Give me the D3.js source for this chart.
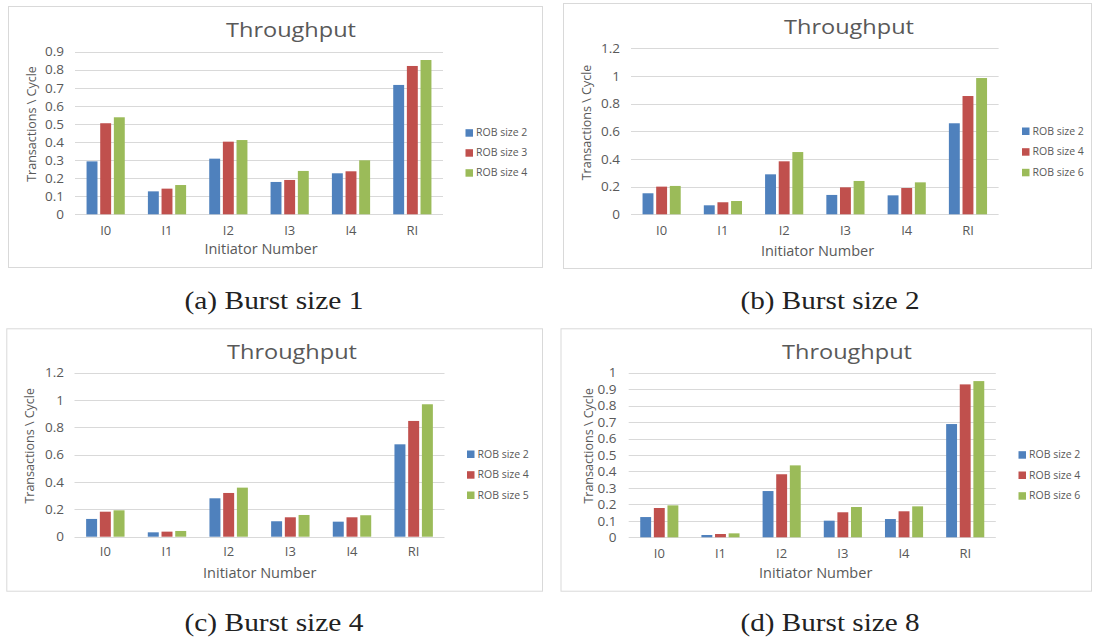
<!DOCTYPE html>
<html>
<head>
<meta charset="utf-8">
<script src="https://cdn.jsdelivr.net/npm/d3@7"></script>
<style>
  html, body { margin: 0; padding: 0; background: #fff; }
  svg { display: block; }
  .tick-label, .cat-label, .axis-title, .chart-title, .legend-label { fill: #595959; font-family: "Open Sans", "Noto Sans", sans-serif; }
  .caption { fill: #222; font-family: "Liberation Serif", "DejaVu Serif", serif; }
</style>
</head>
<body>
<svg id="fig" width="1098" height="644"></svg>
<script>
// Initiator categories shared by all four charts
const categories = ["I0", "I1", "I2", "I3", "I4", "RI"];

// Burst size 1
const burst1Names = ["ROB size 2", "ROB size 3", "ROB size 4"];
const burst1Rob2 = [0.293, 0.127, 0.308, 0.179, 0.227, 0.716];
const burst1Rob3 = [0.504, 0.142, 0.402, 0.190, 0.238, 0.821];
const burst1Rob4 = [0.537, 0.162, 0.411, 0.240, 0.299, 0.854];
const burst1Ticks = [0, 0.1, 0.2, 0.3, 0.4, 0.5, 0.6, 0.7, 0.8, 0.9];

// Burst size 2
const burst2Names = ["ROB size 2", "ROB size 4", "ROB size 6"];
const burst2Rob2 = [0.152, 0.065, 0.289, 0.140, 0.137, 0.658];
const burst2Rob4 = [0.200, 0.087, 0.383, 0.195, 0.190, 0.855];
const burst2Rob6 = [0.205, 0.096, 0.450, 0.241, 0.231, 0.985];
const burst2Ticks = [0, 0.2, 0.4, 0.6, 0.8, 1, 1.2];

// Burst size 4
const burst4Names = ["ROB size 2", "ROB size 4", "ROB size 5"];
const burst4Rob2 = [0.130, 0.032, 0.281, 0.113, 0.110, 0.676];
const burst4Rob4 = [0.183, 0.037, 0.320, 0.142, 0.142, 0.847];
const burst4Rob5 = [0.193, 0.042, 0.359, 0.159, 0.157, 0.969];
const burst4Ticks = [0, 0.2, 0.4, 0.6, 0.8, 1, 1.2];

// Burst size 8
const burst8Names = ["ROB size 2", "ROB size 4", "ROB size 6"];
const burst8Rob2 = [0.123, 0.014, 0.281, 0.101, 0.111, 0.688];
const burst8Rob4 = [0.178, 0.020, 0.383, 0.152, 0.158, 0.929];
const burst8Rob6 = [0.194, 0.024, 0.437, 0.184, 0.188, 0.949];
const burst8Ticks = [0, 0.1, 0.2, 0.3, 0.4, 0.5, 0.6, 0.7, 0.8, 0.9, 1];

const seriesColors = ["#4F81BD", "#C0504D", "#9BBB59"];

const captions = ["(a) Burst size 1", "(b) Burst size 2", "(c) Burst size 4", "(d) Burst size 8"];

// Panel layouts (page coordinates)
const panels = [
  { names: burst1Names, series: [burst1Rob2, burst1Rob3, burst1Rob4], ticks: burst1Ticks, caption: captions[0],
    box: [8, 6, 542, 267], plotX: [75, 443], plotY: [214.3, 51.7],
    title: [291, 36.5], tickRight: 64, yTitle: [31.5, 124], catY: 230, xTitle: [261, 249],
    legendX: 465.5, legendY: [132.7, 152.7, 172.7], captionPos: [274, 309] },
  { names: burst2Names, series: [burst2Rob2, burst2Rob4, burst2Rob6], ticks: burst2Ticks, caption: captions[1],
    box: [563, 3, 1091, 268], plotX: [631, 998.6], plotY: [214.3, 48.3],
    title: [849, 34], tickRight: 620, yTitle: [586.7, 122.5], catY: 230, xTitle: [817.5, 250.7],
    legendX: 1022, legendY: [131, 151.7, 172.3], captionPos: [830, 309] },
  { names: burst4Names, series: [burst4Rob2, burst4Rob4, burst4Rob5], ticks: burst4Ticks, caption: captions[2],
    box: [6.3, 328.3, 542, 590.7], plotX: [74.5, 444.5], plotY: [536.7, 372.7],
    title: [292, 359], tickRight: 64, yTitle: [29.8, 445.8], catY: 551.7, xTitle: [259.7, 572.7],
    legendX: 467, legendY: [454, 474.7, 495], captionPos: [274, 631] },
  { names: burst8Names, series: [burst8Rob2, burst8Rob4, burst8Rob6], ticks: burst8Ticks, caption: captions[3],
    box: [560.5, 328.3, 1091, 590.7], plotX: [628.7, 995.8], plotY: [537.3, 372.7],
    title: [847, 358.5], tickRight: 616.4, yTitle: [589, 445.8], catY: 553.7, xTitle: [815.7, 573.3],
    legendX: 1018.5, legendY: [454.7, 475, 495.7], captionPos: [830, 631] }
];

const svg = d3.select("#fig");
const fmt = v => String(+v.toFixed(1));

panels.forEach(p => {
  const g = svg.append("g");

  // chart frame
  g.append("rect")
    .attr("x", p.box[0] + 0.5).attr("y", p.box[1] + 0.5)
    .attr("width", p.box[2] - p.box[0]).attr("height", p.box[3] - p.box[1])
    .attr("fill", "#fff").attr("stroke", "#D9D9D9").attr("stroke-width", 1);

  const yMax = p.ticks[p.ticks.length - 1];
  const y = d3.scaleLinear().domain([0, yMax]).range(p.plotY);
  const x = d3.scaleBand().domain(categories).range(p.plotX).padding(0);
  const groupW = x.bandwidth() * 0.623;
  const xs = d3.scaleBand().domain([0, 1, 2]).range([0, groupW]).paddingInner(0.2);
  const offset = (x.bandwidth() - groupW) / 2;

  // horizontal gridlines
  g.append("g").selectAll("line").data(p.ticks).join("line")
    .attr("x1", p.plotX[0]).attr("x2", p.plotX[1])
    .attr("y1", d => Math.round(y(d)) + 0.5).attr("y2", d => Math.round(y(d)) + 0.5)
    .attr("stroke", "#D9D9D9").attr("stroke-width", 1);

  // y tick labels
  g.append("g").selectAll("text").data(p.ticks).join("text")
    .attr("class", "tick-label")
    .attr("x", p.tickRight).attr("y", d => y(d))
    .attr("dy", "0.35em").attr("text-anchor", "end")
    .attr("font-size", 13.5)
    .text(fmt);

  // bars
  p.series.forEach((vals, si) => {
    g.append("g").selectAll("rect").data(vals).join("rect")
      .attr("x", (d, i) => x(categories[i]) + offset + xs(si))
      .attr("width", xs.bandwidth())
      .attr("y", d => y(d))
      .attr("height", d => y(0) - y(d))
      .attr("fill", seriesColors[si]);
  });

  // category labels
  g.append("g").selectAll("text").data(categories).join("text")
    .attr("class", "cat-label")
    .attr("x", d => x(d) + x.bandwidth() / 2).attr("y", p.catY)
    .attr("dy", "0.35em").attr("text-anchor", "middle")
    .attr("font-size", 13)
    .text(d => d);

  // chart title
  g.append("text").attr("class", "chart-title")
    .attr("x", p.title[0]).attr("y", p.title[1])
    .attr("text-anchor", "middle").attr("font-size", 20.5)
    .attr("textLength", 130).attr("lengthAdjust", "spacingAndGlyphs")
    .text("Throughput");

  // axis titles
  g.append("text").attr("class", "axis-title")
    .attr("x", p.xTitle[0]).attr("y", p.xTitle[1]).attr("dy", "0.35em")
    .attr("text-anchor", "middle").attr("font-size", 14.5)
    .text("Initiator Number");

  g.append("text").attr("class", "axis-title")
    .attr("transform", `translate(${p.yTitle[0]},${p.yTitle[1]}) rotate(-90)`)
    .attr("dy", "0.35em").attr("text-anchor", "middle").attr("font-size", 12.5)
    .text("Transactions \\ Cycle");

  // legend
  const lg = g.append("g");
  p.names.forEach((name, si) => {
    lg.append("rect")
      .attr("x", p.legendX).attr("y", p.legendY[si] - 3.5)
      .attr("width", 7.5).attr("height", 7.5)
      .attr("fill", seriesColors[si]);
    lg.append("text").attr("class", "legend-label")
      .attr("x", p.legendX + 10.5).attr("y", p.legendY[si]).attr("dy", "0.35em")
      .attr("font-size", 10.5)
      .text(name);
  });

  // subfigure caption
  svg.append("text").attr("class", "caption")
    .attr("x", p.captionPos[0]).attr("y", p.captionPos[1])
    .attr("text-anchor", "middle").attr("font-size", 25)
    .attr("textLength", 179).attr("lengthAdjust", "spacingAndGlyphs")
    .text(p.caption);
});
</script>
</body>
</html>
